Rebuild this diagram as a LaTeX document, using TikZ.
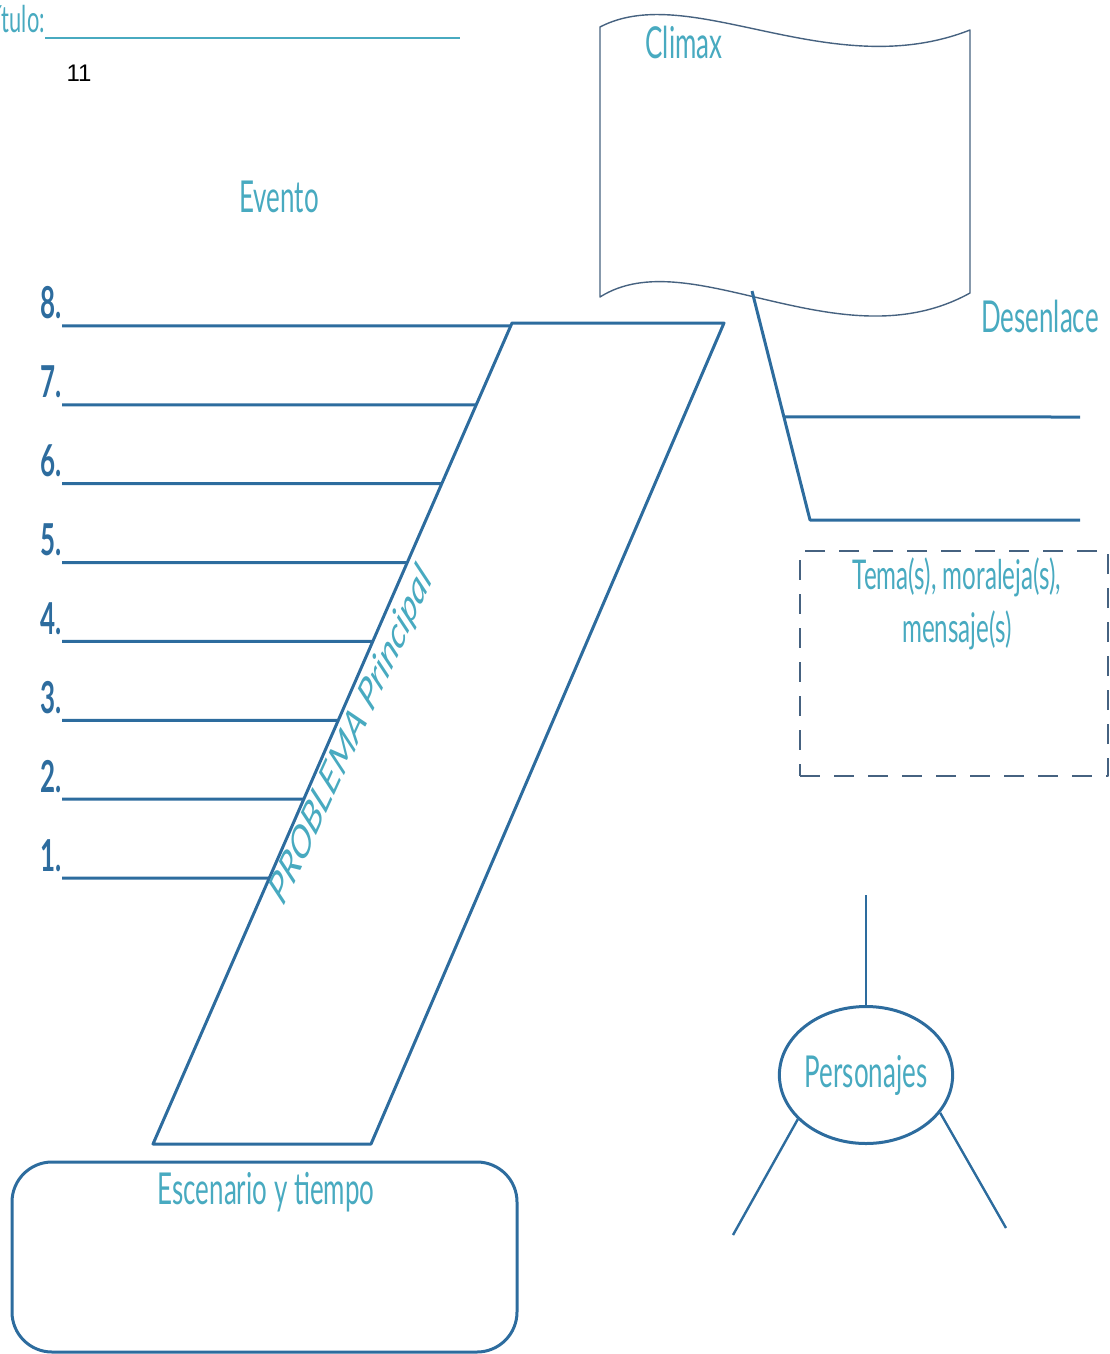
\documentclass[tikz,border=0pt]{standalone}
\usepackage{fontspec}
\newfontfamily\gill[FakeStretch=0.59]{Lato}
\newfontfamily\gillrot{Lato}
\newfontfamily\arial{Liberation Sans}
\usetikzlibrary{shapes.geometric,calc,positioning}
\definecolor{linea}{RGB}{45,108,158}
\definecolor{letra}{RGB}{72,170,192}
\definecolor{borde}{RGB}{70,98,128}
\tikzset{
  rotulo/.style={text=letra,font=\gill\fontsize{44}{53}\selectfont,inner sep=0pt},
  numero/.style={text=linea,font=\gill\bfseries\fontsize{44}{53}\selectfont,inner sep=0pt,anchor=base east},
  raya/.style={draw=linea,line width=3pt},
}

\begin{document}
\begin{tikzpicture}[x=1pt,y=-1pt,line join=round]
            \useasboundingbox (0,0) rectangle (1110,1354);
            \node[rotulo,font=\gill\fontsize{37}{44}\selectfont,anchor=base east] (tit) at (45,33) {Título:};
            \coordinate (titE) at (460,38);
            \draw[draw=letra,line width=2pt] (tit.base east) ++(0,5) -- (titE);
            \node[font=\arial\fontsize{24}{28}\selectfont] (pag) at (79,73) {11};
            % bandera del climax
            \coordinate (fTL) at (600,27);
            \coordinate (fTR) at (970,30);
            \coordinate (fBR) at (970,293);
            \coordinate (fBL) at (600,297);
            \draw[draw=borde,line width=1.4pt] (fTL) .. controls (690,-20) and (830,85) .. (fTR) -- (fBR)
                .. controls (840,365) and (690,240) .. (fBL) -- cycle;
            \node[rotulo] (clim) at (684,42) {Climax};
            \node[rotulo] (even) at (279,197) {Evento};
            % problema
            \coordinate (pTL) at (512,323);
            \coordinate (pTR) at (724,323);
            \coordinate (pBR) at (371,1144);
            \coordinate (pBL) at (153,1144);
            \draw[raya] (pTL) -- (pTR) -- (pBR) -- (pBL) -- cycle;
            \foreach \n in {1,...,8}{
                \pgfmathsetmacro{\yy}{878-78.86*(\n-1)};
                \pgfmathsetmacro{\tt}{(\yy-323)/821};
                \coordinate (ev\n) at (62,\yy);
                \coordinate (evE\n) at ($(pTL)!\tt!(pBL)$);
                \draw[raya] (ev\n) -- (evE\n);
                \node[numero] (num\n) at (62,\yy-7) {\n.};
            }
            \node[text=letra,font=\gillrot\itshape\fontsize{46}{55}\selectfont,inner sep=0pt,
                xscale=0.62,rotate=53.7] (prob) at (352,736) {PROBLEMA Principal};
            % desenlace
            \node[rotulo] (desen) at (1040,316) {Desenlace};
            \coordinate (d0) at (752,291);
            \coordinate (d2) at (810,520);
            \coordinate (d1) at ($(d0)!0.55!(d2)$);
            \coordinate (dE1) at (1080,417);
            \coordinate (dE2) at (1080,520);
            \draw[raya] (d0) -- (d2) -- (dE2);
            \draw[raya] (d1) -- (dE1);
            % tema
            \node[draw=borde,dash pattern=on 20pt off 14pt,line width=1.8pt,minimum width=308,
                minimum height=225,inner sep=0pt] (tema) at (954,663.5) {};
            \node[rotulo,font=\gill\fontsize{41}{53}\selectfont,align=center] (temaT) at (957,604) {Tema(s), moraleja(s),\\mensaje(s)};
            % personajes
            \node[raya,ellipse,rotulo,minimum width=170,minimum height=137] (pers) at (866,1075) {Personajes};
            \coordinate (persA) at (866,895);
            \coordinate (persL) at (733,1235);
            \coordinate (persR) at (1006,1228);
            \draw[raya,line width=2.4pt] (pers.north) -- (persA);
            \draw[raya,line width=2.4pt] (pers.213) -- (persL);
            \draw[raya,line width=2.4pt] (pers.333) -- (persR);
            % escenario
            \node[raya,rounded corners=40pt,minimum width=505,minimum height=190,inner sep=0pt] (esc) at (264.5,1257) {};
            \node[rotulo] (escT) at (266,1192) {Escenario y tiempo};
        \end{tikzpicture}
\end{document}
